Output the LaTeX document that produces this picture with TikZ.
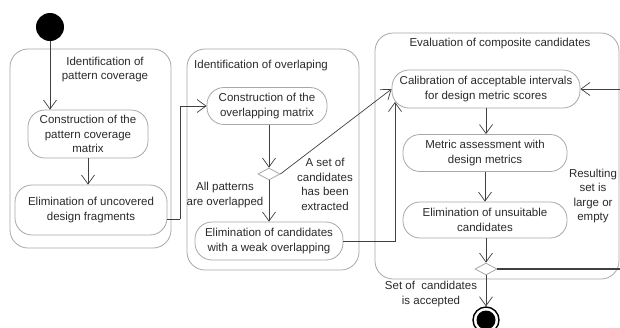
\documentclass[tikz,border=0pt]{standalone}
\usepackage{fontspec}
\setmainfont{Liberation Sans}
\usetikzlibrary{arrows.meta,shapes.geometric}
\definecolor{boxgray}{HTML}{A8A8A8}
\definecolor{linegray}{HTML}{404040}
\definecolor{txtgray}{HTML}{2A2A2A}
\begin{document}
\begin{tikzpicture}[x=1pt,y=-1pt,
  every node/.style={font=\fontsize{11.5}{14.5}\selectfont, text=txtgray},
  container/.style={draw=boxgray, line width=0.8pt, rounded corners=18pt, inner sep=0pt},
  action/.style={draw=boxgray, line width=0.8pt, rounded corners=17pt, align=center, inner sep=0pt},
  decision/.style={diamond, draw=boxgray, line width=0.8pt, inner sep=0pt, minimum width=22pt, minimum height=12pt, fill=white},
  lbl/.style={align=center, inner sep=0pt},
  flow/.style={draw=linegray, line width=0.7pt, -{Straight Barb[length=9pt,width=13pt,line width=0.7pt]}},
  line/.style={draw=linegray, line width=0.7pt}
]
\useasboundingbox (0,0) rectangle (620,327);
\clip (0,0) rectangle (620,327);
\fill[white] (0,0) rectangle (620,327);

% containers
\node[container, minimum width=161pt, minimum height=199pt] (box1) at (90.5,148.5) {};
\node[container, minimum width=172pt, minimum height=221pt] (box2) at (273,159.5) {};
\node[container, minimum width=244pt, minimum height=246pt] (box3) at (497,156) {};

% titles
\node[lbl] (t1) at (105,69.5) {Identification of\\pattern coverage};
\node[lbl, anchor=west] (t2) at (194,66) {Identification of overlaping};
\node[lbl] (t3) at (500,44) {Evaluation of composite candidates};

% initial and final
\node[circle, fill=black, minimum size=28pt, inner sep=0pt] (init) at (50,27) {};
\node[circle, draw=black, line width=1.4pt, minimum size=26pt, inner sep=0pt] (final) at (486,320) {};
\node[circle, fill=black, minimum size=19pt, inner sep=0pt] (finalin) at (final.center) {};

% actions
\node[action, minimum width=120pt, minimum height=48pt] (n1) at (88,134) {Construction of the\\pattern coverage\\matrix};
\node[action, minimum width=152pt, minimum height=50pt] (n2) at (91,210) {Elimination of uncovered\\design fragments};
\node[action, minimum width=120pt, minimum height=37pt] (n3) at (267,106) {Construction of the\\overlapping matrix};
\node[decision] (d1) at (269,174) {};
\node[action, minimum width=148pt, minimum height=38pt] (n4) at (269,241) {Elimination of candidates\\with a weak overlapping};
\node[action, minimum width=188pt, minimum height=38pt] (n5) at (486,89) {Calibration of acceptable intervals\\for design metric scores};
\node[action, minimum width=164pt, minimum height=37pt] (n6) at (485,153) {Metric assessment with\\design metrics};
\node[action, minimum width=164pt, minimum height=36pt] (n7) at (485,220) {Elimination of unsuitable\\candidates};
\node[decision] (d2) at (486,269) {};

% labels
\node[lbl] (l1) at (225,195) {All patterns\\are overlapped};
\node[lbl] (l2) at (325,184.5) {A set of\\candidates\\has been\\extracted};
\node[lbl] (l3) at (593,196) {Resulting\\set is\\large or\\empty};
\node[lbl] (l4) at (431,294) {Set of\ \ candidates\\is accepted};

% junctions
\coordinate (j1) at (180,219);
\coordinate (j2) at (395,102);
\coordinate (j3) at (626,269);

% connectors
\draw[flow] (init.south) -- (init.south |- n1.north);
\draw[flow] (n1.south) -- (n1.south |- n2.north);
\draw[line] (n2.east |- j1) -- (j1);
\draw[flow] (j1) |- (n3.west);
\draw[flow] (n3.south -| d1.north) -- (d1.north);
\draw[flow] (d1.south) -- (n4.north);
\draw[flow] (d1.east) -- (n5.west);
\draw[flow] (n4.east) -| (j2);
\draw[flow] (n5.south) -- (n5.south |- n6.north);
\draw[flow] (n6.south) -- (n7.north);
\draw[flow] (n7.south -| d2.north) -- (d2.north);
\draw[line, line width=1.3pt] (d2.east) -- (j3);
\draw[flow] (j3) |- (n5.east);
\draw[flow] (d2.south) -- (final.north);
\end{tikzpicture}
\end{document}
